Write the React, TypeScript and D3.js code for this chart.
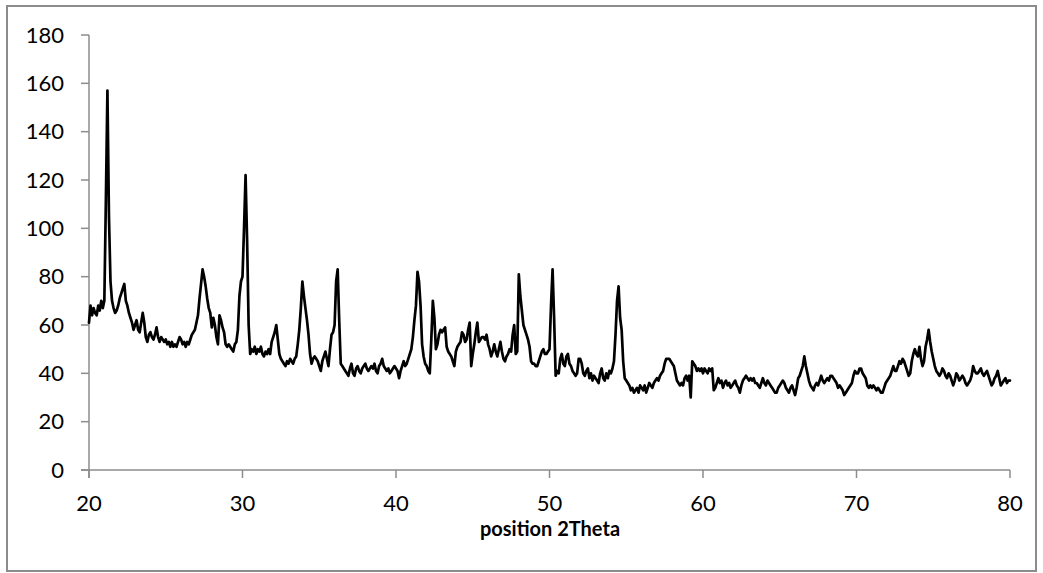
import React from "react";
import * as d3 from "d3";

// 2Theta grid: start, step (degrees)
const thetaStart = 20;
const thetaStep = 0.1;

// Intensities, 0.1° apart
const intensity20s = [
  61,68,64,67,65,64,68,66,70,67,
  70,112,157,105,78,70,67,65,66,68,
  71,73,75,77,70,68,65,63,61,58,
  60,62,58,57,61,65,61,55,53,56,
  57,55,54,56,59,55,53,55,54,53,
  54,52,53,51,53,51,52,51,53,55,
  54,52,53,51,53,52,54,56,57,58,
  61,64,71,77,83,80,76,71,67,65,
  59,63,60,55,52,64,62,59,57,52,
  51,52,51,50,49,52,53,58,72,78,
];
const intensity30s = [
  80,100,122,95,60,48,50,49,51,48,
  50,49,51,48,47,49,48,50,48,53,
  55,57,60,54,48,46,45,44,43,45,
  44,46,45,44,46,47,52,58,67,78,
  72,67,62,56,48,44,46,47,46,45,
  43,41,45,47,49,46,43,50,56,57,
  60,78,83,62,44,43,42,41,40,39,
  42,44,40,39,42,43,41,40,42,43,
  44,42,41,42,43,42,44,41,40,43,
  44,46,43,42,41,42,40,41,42,43,
];
const intensity40s = [
  42,41,38,41,43,45,43,44,46,48,
  50,55,62,68,82,78,68,52,47,44,
  43,41,40,54,70,63,50,52,56,58,
  57,58,59,51,49,48,47,45,43,49,
  51,52,53,57,56,53,54,58,61,43,
  48,52,57,61,53,54,55,55,54,56,
  52,50,47,49,52,49,47,50,53,49,
  46,45,47,48,50,49,56,60,48,49,
  81,72,66,60,58,56,54,51,45,44,
  44,43,43,45,47,49,50,48,48,49,
];
const intensity50s = [
  50,68,83,63,39,41,40,46,48,44,
  43,47,48,44,43,41,40,39,40,46,
  46,44,40,39,41,42,38,40,37,39,
  38,37,36,40,42,38,37,40,38,41,
  40,42,45,56,70,76,63,58,45,38,
  37,36,35,33,34,32,33,34,32,35,
  34,33,35,32,34,36,35,34,36,37,
  38,37,39,40,41,44,46,46,46,45,
  44,43,40,37,36,35,36,35,38,39,
  37,39,30,45,44,43,41,42,41,42,
];
const intensity60s = [
  40,42,41,40,42,41,42,33,34,36,
  38,36,37,34,36,37,35,36,34,35,
  36,37,35,34,32,35,37,38,39,38,
  37,38,37,38,36,36,35,34,36,38,
  36,35,37,36,35,34,33,32,32,34,
  35,36,37,36,34,33,32,34,35,33,
  31,34,38,39,41,43,47,43,40,37,
  35,34,33,35,36,35,37,39,37,36,
  37,38,37,39,39,38,37,36,34,35,
  34,33,31,32,33,34,35,36,39,41,
];
const intensity70s = [
  40,40,42,42,40,39,38,35,34,35,
  34,35,34,33,34,33,32,32,34,36,
  37,38,39,41,43,41,41,43,45,44,
  46,45,43,41,39,40,45,48,50,48,
  47,51,46,43,45,51,54,58,53,49,
  46,43,41,40,39,40,42,41,39,38,
  40,39,37,35,37,40,39,37,38,39,
  38,36,35,36,37,39,43,41,40,40,
  41,42,40,39,40,41,39,37,35,36,
  38,39,41,38,35,36,37,38,36,37,
  37,
];

const xTicks = [20, 30, 40, 50, 60, 70, 80];
const yTicks = [0, 20, 40, 60, 80, 100, 120, 140, 160, 180];
const xTitle = "position 2Theta";

const intensities = [
  ...intensity20s, ...intensity30s, ...intensity40s,
  ...intensity50s, ...intensity60s, ...intensity70s,
];
const points: [number, number][] = intensities.map((v, i) => [
  +(thetaStart + i * thetaStep).toFixed(1),
  v,
]);

export default function App() {
  const W = 1043, H = 573;
  const x = d3.scaleLinear().domain([20, 80]).range([89, 1010]);
  const y = d3.scaleLinear().domain([0, 180]).range([470, 35]);
  const line = d3
    .line<[number, number]>()
    .x((d) => x(d[0]))
    .y((d) => y(d[1]));
  const axisColor = "#8c8c8c";
  const font = "Lato, Carlito, Calibri, sans-serif";
  return (
    <svg
      width={W}
      height={H}
      style={{ position: "absolute", left: 0, top: 0, background: "#fff" }}
    >
      <rect x={0} y={0} width={W} height={H} fill="#fff" />
      <rect x={7} y={6} width={1029} height={565} fill="none" stroke={axisColor} strokeWidth={2} />
      {/* y axis */}
      <line x1={x(20)} x2={x(20)} y1={y(180)} y2={y(0) + 8} stroke={axisColor} strokeWidth={1.5} />
      {yTicks.map((t) => (
        <g key={"y" + t}>
          <line x1={x(20) - 8} x2={x(20)} y1={y(t)} y2={y(t)} stroke={axisColor} strokeWidth={1.5} />
          <text x={64} y={y(t)} dy="0.35em" textAnchor="end" fontFamily={font} fontSize={22} fill="#000">
            {t}
          </text>
        </g>
      ))}
      {/* x axis */}
      <line x1={x(20) - 8} x2={x(80)} y1={y(0)} y2={y(0)} stroke={axisColor} strokeWidth={1.5} />
      {xTicks.map((t) => (
        <g key={"x" + t}>
          <line x1={x(t)} x2={x(t)} y1={y(0)} y2={y(0) + 8} stroke={axisColor} strokeWidth={1.5} />
          <text x={x(t)} y={511} textAnchor="middle" fontFamily={font} fontSize={22} fill="#000">
            {t}
          </text>
        </g>
      ))}
      <text x={550} y={536} textAnchor="middle" fontFamily={font} fontSize={20} fontWeight="bold" fill="#000">
        {xTitle}
      </text>
      <path
        d={line(points) || ""}
        fill="none"
        stroke="#000"
        strokeWidth={2.7}
        strokeLinejoin="round"
        strokeLinecap="round"
      />
    </svg>
  );
}
